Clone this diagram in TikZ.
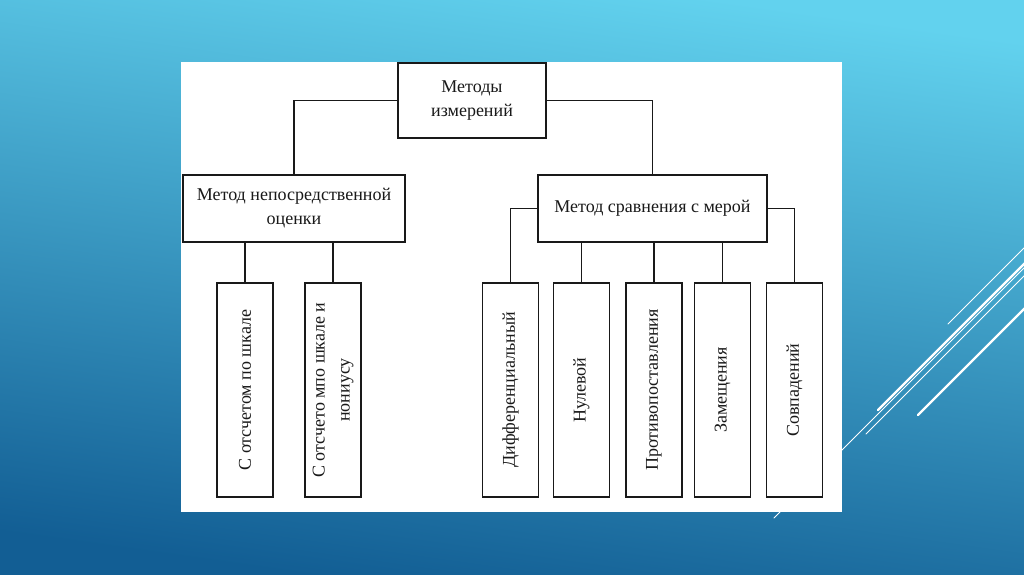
\documentclass[tikz,border=0pt]{standalone}
\usepackage{fontspec}
\setmainfont{Liberation Serif}
\definecolor{bgtop}{RGB}{98,210,238}
\definecolor{bgmid}{RGB}{44,156,206}
\definecolor{bgbot}{RGB}{18,94,148}
\definecolor{ink}{RGB}{25,25,25}
\begin{document}
\begin{tikzpicture}[x=1pt,y=-1pt,
  box/.style={draw=ink, line width=1.4pt, fill=white, inner sep=0pt, outer sep=0pt,
    align=center, font=\fontsize{18}{24}\selectfont, text=ink},
  tallbox/.style={box, minimum width=56pt, minimum height=214pt},
  vtext/.style={rotate=90, align=center, font=\fontsize{18}{25}\selectfont, text=ink, inner sep=0pt},
  conn/.style={draw=ink, line width=1.4pt},
  deco/.style={white, line cap=round}]
\useasboundingbox (0,0) rectangle (1024,574);
\shade[top color=bgtop, middle color=bgmid, bottom color=bgbot, shading angle=-8] (0,0) rectangle (1024,574);
% decorative lines
\begin{scope}
\clip (0,0) rectangle (1024,574);
\draw[deco, line width=0.9pt] (948,324) -- (1030,242);
\draw[deco, line width=2.4pt] (878,410) -- (1030,258);
\draw[deco, line width=0.9pt] (774,518) -- (1030,262);
\draw[deco, line width=0.9pt] (866,434) -- (1030,270);
\draw[deco, line width=2.4pt] (918,415) -- (1030,303);
\end{scope}
% panel
\fill[white] (181,62) rectangle (842,512);
% nodes
\node[box, minimum width=148pt, minimum height=75pt] (top) at (472,100.5) {Методы\\измерений};
\node[box, minimum width=222pt, minimum height=67pt] (lb) at (294,208.5) {Метод непосредственной\\оценки};
\node[box, minimum width=229pt, minimum height=67pt] (rb) at (652.5,208.5) {Метод сравнения с мерой};
\node[tallbox] (b1) at (245,390) {};
\node[tallbox] (b2) at (333,390) {};
\node[tallbox] (b3) at (510.5,390) {};
\node[tallbox] (b4) at (581.5,390) {};
\node[tallbox] (b5) at (654,390) {};
\node[tallbox] (b6) at (722.5,390) {};
\node[tallbox] (b7) at (794.5,390) {};
\node[vtext] (t1) at (b1.center) {С отсчетом по шкале};
\node[vtext] (t2) at (b2.center) {С отсчето мпо шкале и\\нониусу};
\node[vtext] (t3) at (b3.center) {Дифференциальный};
\node[vtext] (t4) at (b4.center) {Нулевой};
\node[vtext] (t5) at (b5.center) {Противопоставления};
\node[vtext] (t6) at (b6.center) {Замещения};
\node[vtext] (t7) at (b7.center) {Совпадений};
% connectors
\draw[conn] (top.west) -| (lb.north);
\draw[conn] (top.east) -| (rb.north);
\draw[conn] (lb.south -| b1.north) -- (b1.north);
\draw[conn] (lb.south -| b2.north) -- (b2.north);
\draw[conn] (rb.west) -| (b3.north);
\draw[conn] (rb.east) -| (b7.north);
\draw[conn] (rb.south -| b4.north) -- (b4.north);
\draw[conn] (rb.south -| b5.north) -- (b5.north);
\draw[conn] (rb.south -| b6.north) -- (b6.north);
\end{tikzpicture}
\end{document}
